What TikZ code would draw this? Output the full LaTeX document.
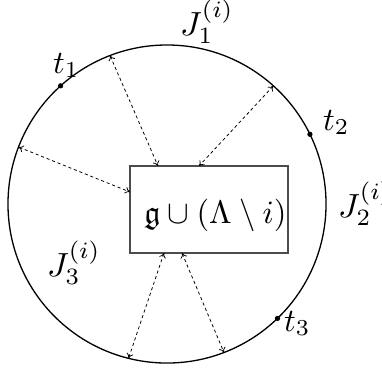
\documentclass[tikz,border=0pt]{standalone}
\usepackage{amssymb}
\usetikzlibrary{calc,arrows.meta}
\begin{document}
\begin{tikzpicture}[x=0.3226pt,y=0.3226pt,
  ring/.style={draw=black,circle,line width=0.42pt,minimum size=102.6pt,inner sep=0pt,outer sep=0pt},
  frame/.style={draw=black!70,rectangle,line width=0.4pt,minimum width=50.97pt,minimum height=28.07pt,inner sep=0pt,outer sep=0pt},
  dot/.style={circle,fill=black,inner sep=0pt,minimum size=1.7pt},
  lab/.style={anchor=base west,inner sep=0pt,outer sep=0pt},
  link/.style={line width=0.25pt,dash pattern=on 1pt off 0.9pt,{To[length=1.6pt,width=2.2pt]}-{To[length=1.6pt,width=2.2pt]}}]
\useasboundingbox (0,0) rectangle (382,-371);
\node[ring] (circ) at (167,-204) {};
\node[frame] (box) at (209,-209.5) {};
\node[lab,scale=1.05] (lbl) at (144,-223) {$\mathfrak{g}\cup(\Lambda\setminus i)$};
% points on the box
\coordinate (b1) at ($(box.north west)+(28,0)$);
\coordinate (b2) at ($(box.north west)+(69,0)$);
\coordinate (b3) at ($(box.north west)+(0,-26)$);
\coordinate (b4) at ($(box.south west)+(34,0)$);
\coordinate (b5) at ($(box.south west)+(52,0)$);
% connectors
\draw[link] (circ.111.5) -- (b1);
\draw[link] (circ.48.1) -- (b2);
\draw[link] (circ.159.9) -- (b3);
\draw[link] (b4) -- (circ.256.7);
\draw[link] (b5) -- (circ.291);
% marked points
\node[dot] (d1) at (circ.132.2) {};
\node[dot] (d2) at (circ.26.4) {};
\node[dot] (d3) at (circ.314.7) {};
% labels
\node[lab,scale=1.05] (t1) at (53,-73) {$t_1$};
\node[lab,scale=1.05] (t2) at (323,-130) {$t_2$};
\node[lab,scale=1.05] (t3) at (284,-331) {$t_3$};
\node[lab,scale=1.08] (J1) at (180,-35) {$J_1^{(i)}$};
\node[lab,scale=1.08] (J2) at (338,-217) {$J_2^{(i)}$};
\node[lab,scale=1.08] (J3) at (47,-276) {$J_3^{(i)}$};
\end{tikzpicture}
\end{document}
